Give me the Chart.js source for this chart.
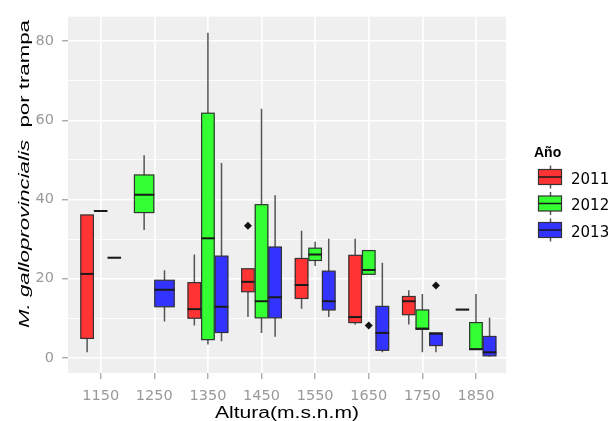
<!DOCTYPE html>
<html lang="es">
<head>
<meta charset="utf-8" />
<title>M. galloprovincialis por trampa — Altura</title>
<script src="https://cdn.jsdelivr.net/npm/chart.js@4.4.1/dist/chart.umd.min.js"></script>
<style>
  html, body { margin: 0; padding: 0; background: #fff; }
</style>
</head>
<body>
<canvas id="c" width="612" height="421"></canvas>
<script>
// altitudes (m.s.n.m) and years
const altitudes = [1150, 1250, 1350, 1450, 1550, 1650, 1750, 1850];
const years = ['2011', '2012', '2013'];
const yearColors = ['#FF3333', '#33FF33', '#3333FF'];

// [bigote inf, Q1, mediana, Q3, bigote sup] por altitud; null = sin datos
const box2011 = [
  [1.4, 4.9, 21.2, 36.1, 36.1],
  null,
  [8.2, 10.0, 12.3, 19.0, 26.1],
  [10.3, 16.7, 19.2, 22.5, 22.5],
  [12.4, 15.0, 18.4, 25.1, 32.1],
  [8.4, 8.9, 10.3, 25.9, 30.1],
  [8.4, 10.9, 14.3, 15.5, 17.1],
  [12.2, 12.2, 12.2, 12.2, 12.2],
];
const box2012 = [
  [37.1, 37.1, 37.1, 37.1, 37.1],
  [32.3, 36.7, 41.2, 46.2, 51.2],
  [3.4, 4.6, 30.2, 61.8, 82.1],
  [6.3, 10.1, 14.3, 38.7, 62.9],
  [23.2, 24.6, 26.1, 27.7, 29.3],
  [21.1, 21.1, 22.2, 27.1, 27.1],
  [1.4, 7.2, 7.4, 12.1, 16.1],
  [2.1, 2.1, 2.2, 8.9, 16.1],
];
const box2013 = [
  [25.3, 25.3, 25.3, 25.3, 25.3],
  [9.2, 12.9, 17.2, 19.6, 22.1],
  [4.2, 6.4, 12.9, 25.7, 49.2],
  [5.3, 10.1, 15.3, 28.0, 41.1],
  [10.3, 12.1, 14.3, 21.9, 30.1],
  [1.4, 1.9, 6.3, 13.0, 24.0],
  [1.4, 3.1, 6.1, 6.3, 6.3],
  [0.3, 0.5, 1.4, 5.4, 10.1],
];
const boxData = [box2011, box2012, box2013];

// valores atípicos
const outlierAlt = [1450, 1650, 1750];
const outlierYear = [0, 1, 2];
const outlierVal = [33.4, 8.2, 18.3];

const yTicks = [0, 10, 20, 30, 40, 50, 60, 70, 80];
const yLabels = [0, 20, 40, 60, 80];

const GROUP_W = 76; // ancho del grupo esquivado, en unidades de x

function slot(i, k) {
  const present = boxData.map((s, j) => (s[i] ? j : -1)).filter((j) => j >= 0);
  const w = GROUP_W / present.length;
  const pos = present.indexOf(k);
  return { center: altitudes[i] - GROUP_W / 2 + w * (pos + 0.5), width: w };
}

const boxPlugin = {
  id: 'boxes',
  beforeDatasetsDraw(chart) {
    const { ctx, scales: { x, y } } = chart;
    ctx.save();
    altitudes.forEach((alt, i) => {
      boxData.forEach((series, k) => {
        const b = series[i];
        if (!b) return;
        const [lo, q1, med, q3, hi] = b;
        const s = slot(i, k);
        const xl = x.getPixelForValue(s.center - s.width / 2);
        const xr = x.getPixelForValue(s.center + s.width / 2);
        const xc = x.getPixelForValue(s.center);
        ctx.strokeStyle = '#555';
        ctx.lineWidth = 1.5;
        ctx.beginPath();
        ctx.moveTo(xc, y.getPixelForValue(hi));
        ctx.lineTo(xc, y.getPixelForValue(q3));
        ctx.moveTo(xc, y.getPixelForValue(q1));
        ctx.lineTo(xc, y.getPixelForValue(lo));
        ctx.stroke();
        const yt = y.getPixelForValue(q3);
        const yb = y.getPixelForValue(q1);
        ctx.fillStyle = yearColors[k];
        ctx.fillRect(xl, yt, xr - xl, yb - yt);
        ctx.strokeStyle = '#333';
        ctx.lineWidth = 1.2;
        ctx.strokeRect(xl + 0.5, yt, xr - xl - 1, yb - yt);
        ctx.strokeStyle = '#1a1a1a';
        ctx.lineWidth = 2;
        ctx.beginPath();
        ctx.moveTo(xl, y.getPixelForValue(med));
        ctx.lineTo(xr, y.getPixelForValue(med));
        ctx.stroke();
      });
    });
    ctx.restore();
  },
};

const panelPlugin = {
  id: 'panel',
  beforeDraw(chart) {
    const { ctx, chartArea: a } = chart;
    ctx.save();
    ctx.fillStyle = '#EFEFEF';
    ctx.fillRect(a.left, a.top, a.right - a.left, a.bottom - a.top);
    ctx.restore();
  },
  afterDraw(chart) {
    const { ctx, chartArea: a } = chart;
    ctx.save();
    ctx.fillStyle = '#000';
    // eje x
    ctx.font = '16px "Liberation Sans", Arial, sans-serif';
    ctx.textAlign = 'center';
    ctx.textBaseline = 'alphabetic';
    const xt = 'Altura(m.s.n.m)';
    const xw = ctx.measureText(xt).width;
    ctx.save();
    ctx.translate((a.left + a.right) / 2, 418);
    ctx.scale(144 / xw, 1);
    ctx.fillText(xt, 0, 0);
    ctx.restore();
    // eje y (mixto cursiva / normal)
    const it = 'M. galloprovincialis';
    const rt = '  por trampa';
    const fI = 'italic 15px "Liberation Sans", Arial, sans-serif';
    const fR = '15px "Liberation Sans", Arial, sans-serif';
    ctx.font = fI;
    const wI = ctx.measureText(it).width;
    ctx.font = fR;
    const wR = ctx.measureText(rt).width;
    const tot = wI + wR;
    ctx.save();
    ctx.translate(29, 174);
    ctx.rotate(-Math.PI / 2);
    ctx.scale(308 / tot, 1);
    ctx.textAlign = 'left';
    ctx.font = fI;
    ctx.fillText(it, -tot / 2, 0);
    ctx.font = fR;
    ctx.fillText(rt, -tot / 2 + wI, 0);
    ctx.restore();
    // leyenda
    ctx.textAlign = 'left';
    ctx.font = 'bold 14px "Liberation Sans", Arial, sans-serif';
    ctx.fillText('Año', 534, 157);
    years.forEach((yr, k) => {
      const cy = 177 + k * 26.5;
      ctx.strokeStyle = '#555';
      ctx.lineWidth = 1.5;
      ctx.beginPath();
      ctx.moveTo(550.5, cy - 11.5);
      ctx.lineTo(550.5, cy + 11.5);
      ctx.stroke();
      ctx.fillStyle = yearColors[k];
      ctx.fillRect(538.5, cy - 7.5, 23, 15);
      ctx.strokeStyle = '#333';
      ctx.lineWidth = 1.2;
      ctx.strokeRect(538.5, cy - 7.5, 23, 15);
      ctx.strokeStyle = '#1a1a1a';
      ctx.lineWidth = 1.5;
      ctx.beginPath();
      ctx.moveTo(538.5, cy);
      ctx.lineTo(561.5, cy);
      ctx.stroke();
      ctx.fillStyle = '#000';
      ctx.font = '15px "DejaVu Sans", sans-serif';
      ctx.textBaseline = 'alphabetic';
      ctx.fillText(yr, 571, cy + 6.5);
    });
    ctx.restore();
  },
};

const outlierPoints = outlierAlt.map((alt, n) => ({
  x: slot(altitudes.indexOf(alt), outlierYear[n]).center,
  y: outlierVal[n],
}));

const tickFont = { family: '"DejaVu Sans", sans-serif', size: 14.5 };

new Chart(document.getElementById('c'), {
  type: 'scatter',
  data: {
    datasets: [{
      label: 'atípicos',
      data: outlierPoints,
      pointStyle: 'rectRot',
      radius: 4,
      backgroundColor: '#111',
      borderWidth: 0,
    }],
  },
  options: {
    responsive: false,
    animation: false,
    events: [],
    layout: { padding: { left: 0, top: 13, right: 106, bottom: 0 } },
    plugins: { legend: { display: false }, tooltip: { enabled: false } },
    scales: {
      x: {
        type: 'linear',
        min: 1089,
        max: 1906,
        afterBuildTicks: (s) => { s.ticks = altitudes.map((v) => ({ value: v })); },
        afterFit: (s) => { s.height = 48; },
        ticks: { color: '#999', font: tickFont, padding: 9, maxRotation: 0, autoSkip: false, callback: (v) => String(v) },
        grid: { color: '#fff', lineWidth: 1.6, tickColor: '#8a8a8a', tickLength: 6, tickWidth: 1 },
        border: { display: false },
      },
      y: {
        min: -3.83,
        max: 86.18,
        afterBuildTicks: (s) => { s.ticks = yTicks.map((v) => ({ value: v })); },
        afterFit: (s) => { s.width = 68; },
        ticks: { color: '#999', font: tickFont, padding: 8, callback: (v) => (yLabels.includes(v) ? String(v) : '') },
        grid: {
          color: '#fff',
          lineWidth: (c) => (yLabels.includes(c.tick.value) ? 1.6 : 0.8),
          tickColor: (c) => (yLabels.includes(c.tick.value) ? '#8a8a8a' : 'rgba(0,0,0,0)'),
          tickLength: 6,
          tickWidth: 1,
        },
        border: { display: false },
      },
    },
  },
  plugins: [panelPlugin, boxPlugin],
});
</script>
</body>
</html>
